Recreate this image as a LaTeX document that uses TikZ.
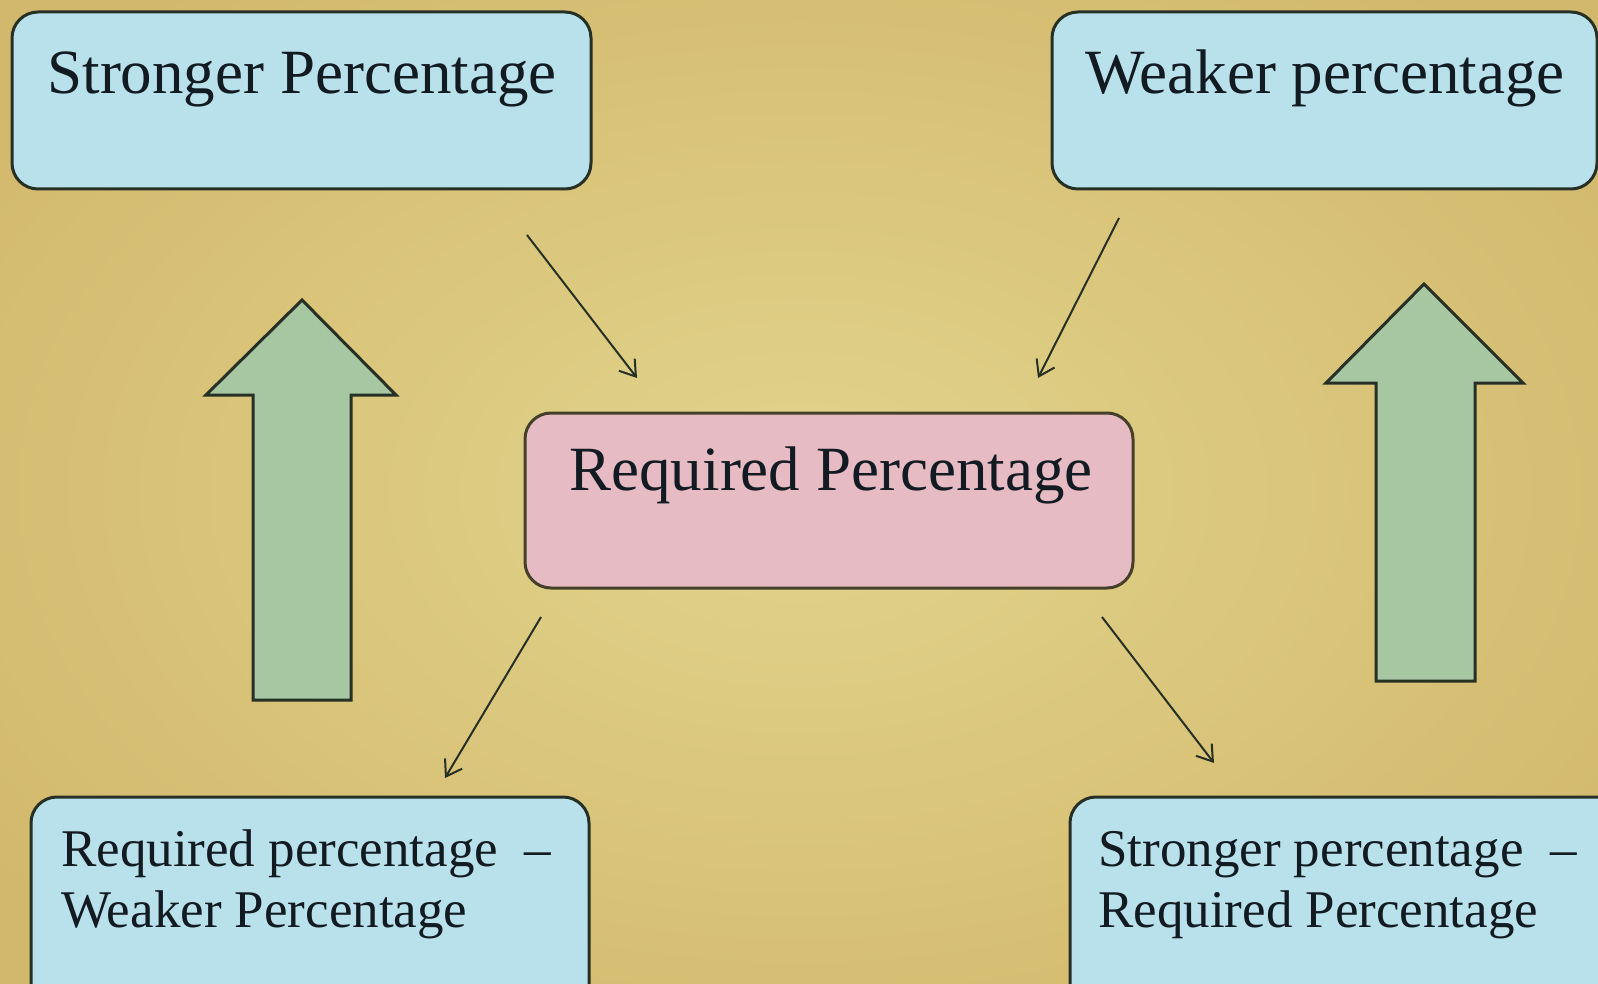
\documentclass[tikz,border=0pt]{standalone}
\usepackage{fontspec}
\setmainfont{Liberation Serif}
\usetikzlibrary{arrows.meta}
\definecolor{bgedge}{HTML}{D2B86C}
\definecolor{bgmid}{HTML}{E2D48C}
\definecolor{cyanbox}{HTML}{B9E1EB}
\definecolor{pinkbox}{HTML}{E6BBC3}
\definecolor{sage}{HTML}{A7C7A3}
\definecolor{darkline}{HTML}{263024}
\definecolor{inktext}{HTML}{121A22}
\tikzset{
  cbox/.style={draw=darkline, line width=3pt, fill=cyanbox, rounded corners=26pt, inner sep=0pt},
  pbox/.style={draw=darkline!80!brown, line width=3pt, fill=pinkbox, rounded corners=26pt, inner sep=0pt},
  bigtxt/.style={font=\fontsize{63}{70}\selectfont, text=inktext, inner sep=0pt, anchor=base},
  smtxt/.style={font=\fontsize{53}{62}\selectfont, text=inktext, inner sep=0pt, anchor=base west},
  thinarrow/.style={draw=darkline, line width=2pt, -{Straight Barb[length=15pt,width=20pt,line width=2pt]}},
  fatarrow/.style={draw=darkline, line width=3pt, fill=sage, line join=miter}
}
\begin{document}
\begin{tikzpicture}[x=1pt,y=-1pt]
\useasboundingbox (0,0) rectangle (1598,984);
\clip (0,0) rectangle (1598,984);
\shade[inner color=bgmid, outer color=bgedge] (-200,-150) rectangle (1798,1134);

% boxes
\node[cbox, minimum width=579pt, minimum height=177pt] (sp) at (301.5,100.5) {};
\node[cbox, minimum width=545pt, minimum height=177pt] (wp) at (1324.5,100.5) {};
\node[pbox, minimum width=608pt, minimum height=175pt] (rp) at (829,500.5) {};
\node[cbox, minimum width=558pt, minimum height=260pt] (rw) at (310,927) {};
\node[cbox, minimum width=560pt, minimum height=260pt] (sr) at (1350,927) {};

% texts
\node[bigtxt] (spt) at (302,94) {Stronger Percentage};
\node[bigtxt] (wpt) at (1325,94) {Weaker percentage};
\node[bigtxt] (rpt) at (831,490) {Required Percentage};
\node[smtxt] (rwt1) at (61,866) {Required percentage \ –};
\node[smtxt] (rwt2) at (61,927) {Weaker Percentage};
\node[smtxt] (srt1) at (1098,866) {Stronger percentage \ –};
\node[smtxt] (srt2) at (1098,927) {Required Percentage};

% thin connectors
\coordinate (a1s) at (527,235);  \coordinate (a1e) at (637,378);
\coordinate (a2s) at (1119,218); \coordinate (a2e) at (1038,378);
\coordinate (a3s) at (541,617);  \coordinate (a3e) at (445,778);
\coordinate (a4s) at (1102,617); \coordinate (a4e) at (1214,763);
\draw[thinarrow] (a1s) -- (a1e);
\draw[thinarrow] (a2s) -- (a2e);
\draw[thinarrow] (a3s) -- (a3e);
\draw[thinarrow] (a4s) -- (a4e);

% big block arrows
\draw[fatarrow] (302,300) -- (396,395) -- (351,395) -- (351,700) -- (253,700) -- (253,395) -- (206,395) -- cycle;
\draw[fatarrow] (1424,284) -- (1523,383) -- (1475,383) -- (1475,681) -- (1376,681) -- (1376,383) -- (1326,383) -- cycle;
\end{tikzpicture}
\end{document}
